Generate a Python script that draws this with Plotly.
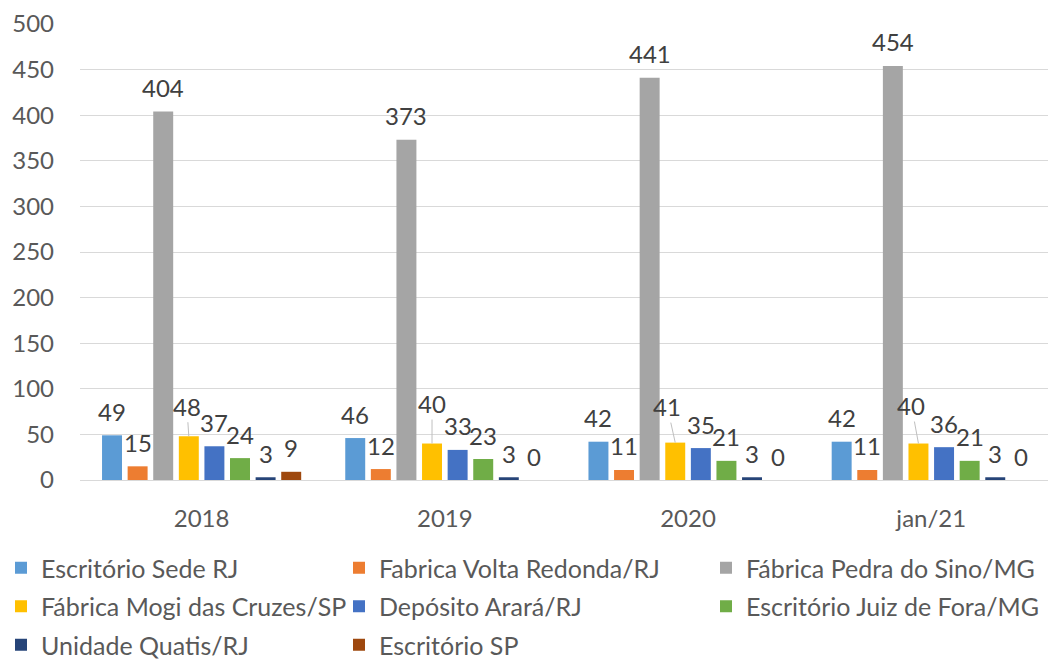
import plotly.graph_objects as go

# ---------------- data ----------------
categories = ["2018", "2019", "2020", "jan/21"]

series_names = [
    "Escritório Sede RJ",
    "Fabrica Volta Redonda/RJ",
    "Fábrica Pedra do Sino/MG",
    "Fábrica Mogi das Cruzes/SP",
    "Depósito Arará/RJ",
    "Escritório Juiz de Fora/MG",
    "Unidade Quatis/RJ",
    "Escritório SP",
]

escritorio_sede_rj = [49, 46, 42, 42]
fabrica_volta_redonda_rj = [15, 12, 11, 11]
fabrica_pedra_do_sino_mg = [404, 373, 441, 454]
fabrica_mogi_das_cruzes_sp = [48, 40, 41, 40]
deposito_arara_rj = [37, 33, 35, 36]
escritorio_juiz_de_fora_mg = [24, 23, 21, 21]
unidade_quatis_rj = [3, 3, 3, 3]
escritorio_sp = [9, 0, 0, 0]

y_ticks = [0, 50, 100, 150, 200, 250, 300, 350, 400, 450, 500]

# ---------------- style ----------------
all_values = [
    escritorio_sede_rj,
    fabrica_volta_redonda_rj,
    fabrica_pedra_do_sino_mg,
    fabrica_mogi_das_cruzes_sp,
    deposito_arara_rj,
    escritorio_juiz_de_fora_mg,
    unidade_quatis_rj,
    escritorio_sp,
]
colors = ["#5B9BD5", "#ED7D31", "#A5A5A5", "#FFC000",
          "#4472C4", "#70AD47", "#264478", "#9E480E"]
legend_ids = ["legend", "legend2", "legend3",
              "legend", "legend2", "legend3",
              "legend", "legend2"]

FONT = "Lato, 'Open Sans', sans-serif"
W, H = 1048, 659
ML, MR, MT, MB = 80, 0, 24, 179
X_RANGE = [-0.5, 3.48]
BARGAP = 0.158
cat_px = (W - ML - MR) / (X_RANGE[1] - X_RANGE[0])
slot_px = cat_px * (1 - BARGAP) / len(all_values)

NUM_SIZE = 24
label_dy = 24
# leader-line offsets (dx, dy) for the yellow series labels
leader_offsets = [(-2, 30), (0, 40), (-8, 36), (-7, 38)]

fig = go.Figure()
for i, (name, vals, col) in enumerate(zip(series_names, all_values, colors)):
    fig.add_trace(go.Bar(
        name=name, x=categories, y=vals,
        marker=dict(color=col, line=dict(width=0)),
        legend=legend_ids[i], legendgroup=name,
        hoverinfo="x+y+name",
    ))

annotations = []
for i, vals in enumerate(all_values):
    xs = (i - (len(all_values) - 1) / 2) * slot_px
    for j, v in enumerate(vals):
        if i == 3:
            dx, dy = leader_offsets[j]
            annotations.append(dict(
                x=j, y=v, xref="x", yref="y", text=str(v),
                xshift=xs, showarrow=True, arrowhead=0, arrowwidth=1,
                arrowcolor="#BFBFBF", ax=dx, ay=-dy, standoff=0,
                font=dict(family=FONT, size=NUM_SIZE, color="#404040"),
            ))
        else:
            annotations.append(dict(
                x=j, y=v, xref="x", yref="y", text=str(v),
                xshift=xs, yshift=label_dy, showarrow=False,
                xanchor="center", yanchor="middle",
                font=dict(family=FONT, size=NUM_SIZE, color="#404040"),
            ))

legend_common = dict(
    orientation="v", xref="container", yref="container",
    xanchor="left", yanchor="top", bgcolor="rgba(0,0,0,0)",
    font=dict(family=FONT, size=25, color="#595959"),
    tracegroupgap=3, borderwidth=0,
)
leg_top = 1 - 545 / H
fig.update_layout(
    width=W, height=H,
    margin=dict(l=ML, r=MR, t=MT, b=MB, autoexpand=False),
    paper_bgcolor="white", plot_bgcolor="white",
    barmode="group", bargap=BARGAP, bargroupgap=0.22,
    font=dict(family=FONT, color="#595959"),
    showlegend=True,
    legend=dict(x=1 / W, y=leg_top, **legend_common),
    legend2=dict(x=339 / W, y=leg_top, **legend_common),
    legend3=dict(x=706 / W, y=leg_top, **legend_common),
    xaxis=dict(
        type="category", range=X_RANGE, showgrid=False, showline=False,
        zeroline=False, ticks="", ticklabelstandoff=22, automargin=False,
        tickfont=dict(family=FONT, size=NUM_SIZE, color="#595959"),
    ),
    yaxis=dict(
        range=[0, 500], tickvals=y_ticks, showgrid=True,
        gridcolor="#D9D9D9", gridwidth=1, zeroline=True,
        zerolinecolor="#D9D9D9", zerolinewidth=1, showline=False,
        ticks="", ticklabelstandoff=25, automargin=False,
        tickfont=dict(family=FONT, size=NUM_SIZE, color="#595959"),
    ),
    annotations=annotations,
)

fig.write_html(
    "out.html",
    config={"displayModeBar": False},
    post_script="document.body.style.margin='0';document.body.style.overflow='hidden';",
)
